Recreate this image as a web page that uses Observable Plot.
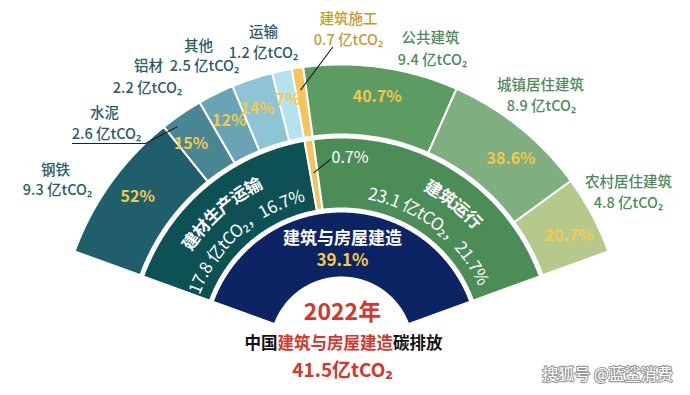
<!DOCTYPE html>
<html><head><meta charset="utf-8">
<script src="https://cdn.jsdelivr.net/npm/d3@7"></script>
<script src="https://cdn.jsdelivr.net/npm/@observablehq/plot@0.6"></script>
<style>html,body{margin:0;padding:0;background:#fff;} svg{display:block}</style>
</head><body><div id="chart"></div>
<script>
// ---------------- data ----------------
const innerName = "建筑与房屋建造";
const innerShare = "39.1%";
const middleNames = ["建材生产运输", "建筑施工", "建筑运行"];
const middleValues = [17.8, 0.7, 23.1];
const middleShares = ["16.7%", "0.7%", "21.7%"];
const outerNames = ["钢铁", "水泥", "铝材", "其他", "运输", "建筑施工", "公共建筑", "城镇居住建筑", "农村居住建筑"];
const outerValues = [9.3, 2.6, 2.2, 2.5, 1.2, 0.7, 9.4, 8.9, 4.8];
const outerShares = ["52%", "15%", "12%", "14%", "7%", "", "40.7%", "38.6%", "20.7%"];
const outerGroup = [0, 0, 0, 0, 0, 1, 2, 2, 2];
const yearLabel = "2022年";
const titleParts = ["中国", "建筑与房屋建造", "碳排放"];
const totalLabel = "41.5亿tCO₂";
const unit = "亿tCO₂";
const watermark = "搜狐号 @蓝鲨消费";

// ---------------- layout & style ----------------
const W = 690, H = 395;
const CX = 341, CY = 348, A0 = -70, A1 = 70;
const R = {inner: [71, 137], middle: [140, 211], outer: [214, 284]};
const FONT = "'Noto Sans CJK SC','Noto Sans',sans-serif";
const fillOf = {
  "i-建筑与房屋建造": "#0c2463",
  "m-建材生产运输": "#0d5155", "m-建筑施工": "#f3c55c", "m-建筑运行": "#4c8c57",
  "o-钢铁": "#1f5f6b", "o-水泥": "#4a8594", "o-铝材": "#6aa3b4", "o-其他": "#8fc4d4",
  "o-运输": "#b4e3f0", "o-建筑施工": "#f3c55c", "o-公共建筑": "#5c9b61",
  "o-城镇居住建筑": "#7faf7f", "o-农村居住建筑": "#b6c98c"
};
const groupColor = ["#2b5b65", "#c49a2c", "#4e8a5b"];
const pctColor = "#f2c94c";
const red = "#d8352c";
// label anchor positions (name line, value line)
const labelPos = {
  "钢铁": [55, 170, 57, 190], "水泥": [104, 113, 106, 134], "铝材": [148, 66, 147, 88],
  "其他": [198, 46, 204, 66], "运输": [263, 32, 263, 53], "建筑施工": [348, 19, 348, 40],
  "公共建筑": [430, 38, 432, 60], "城镇居住建筑": [540, 85, 541, 106], "农村居住建筑": [628, 182, 628, 203]
};
const pctAngleShift = {"钢铁": 1, "水泥": -2, "其他": -1, "城镇居住建筑": 3, "农村居住建筑": 1.7};

// ---------------- geometry helpers ----------------
const rad = d => d * Math.PI / 180;
const pt = (r, a) => [CX + r * Math.sin(rad(a)), CY - r * Math.cos(rad(a))];
function spans(values) {
  const total = d3.sum(values); let acc = 0;
  return values.map(v => { const a0 = A0 + acc / total * (A1 - A0); acc += v; return [a0, A0 + acc / total * (A1 - A0)]; });
}
function sector(key, r0, r1, a0, a1) {
  const n = Math.max(2, Math.ceil(Math.abs(a1 - a0) * 2));
  const out = [];
  for (let i = 0; i <= n; i++) { const [x, y] = pt(r1, a0 + (a1 - a0) * i / n); out.push({key, x, y}); }
  for (let i = n; i >= 0; i--) { const [x, y] = pt(r0, a0 + (a1 - a0) * i / n); out.push({key, x, y}); }
  out.push({...out[0]});
  return out;
}

const midSpans = spans(middleValues);
const outSpans = spans(outerValues);
const polys = [
  ...sector("i-" + innerName, R.inner[0], R.inner[1], A0, A1),
  ...middleNames.flatMap((n, i) => sector("m-" + n, R.middle[0], R.middle[1], midSpans[i][0], midSpans[i][1])),
  ...outerNames.flatMap((n, i) => sector("o-" + n, R.outer[0], R.outer[1], outSpans[i][0], outSpans[i][1]))
];

// percentage labels in outer ring
const pctLabels = outerNames.map((n, i) => {
  const a = (outSpans[i][0] + outSpans[i][1]) / 2 + (pctAngleShift[n] || 0);
  const [x, y] = pt(254, a);
  return {x, y, text: outerShares[i]};
}).filter(d => d.text);

// outer name/value labels
const nameLabels = outerNames.map((n, i) => ({x: labelPos[n][0], y: labelPos[n][1], text: n, fill: groupColor[outerGroup[i]]}));
const valueLabels = outerNames.map((n, i) => ({x: labelPos[n][2], y: labelPos[n][3], text: `${outerValues[i]} ${unit}`, fill: groupColor[outerGroup[i]]}));

// leader lines
const cementMid = (outSpans[1][0] + outSpans[1][1]) / 2;
const constrMid = (outSpans[5][0] + outSpans[5][1]) / 2;
const leaders = [
  ...[[72, 143], [145, 143], pt(276, cementMid - 2.3)].map(([x, y]) => ({k: "a", x, y})),
  ...[[332, 47], pt(262, constrMid)].map(([x, y]) => ({k: "b", x, y})),
  ...[[330, 159], pt(178, constrMid)].map(([x, y]) => ({k: "c", x, y}))
];

// title line pieces
const tfs = 16.5;
const tw = titleParts.map(s => s.length * tfs);
const tx0 = CX + 2 - d3.sum(tw) / 2;
const titleData = titleParts.map((s, i) => ({x: tx0 + d3.sum(tw.slice(0, i)), y: 343, text: s, fill: i === 1 ? red : "#111"}));

const chart = Plot.plot({
  width: W, height: H, margin: 0,
  x: {domain: [0, W], range: [0, W], axis: null},
  y: {domain: [0, H], range: [0, H], axis: null},
  color: {type: "identity"},
  style: {fontFamily: FONT, background: "#fff", overflow: "visible"},
  marks: [
    Plot.line(polys, {x: "x", y: "y", z: "key", fill: d => fillOf[d.key], stroke: "#fff", strokeWidth: 2, curve: "linear"}),
    Plot.line(leaders, {x: "x", y: "y", z: "k", stroke: "#222", strokeWidth: 1.2}),
    Plot.text(pctLabels, {x: "x", y: "y", text: "text", fill: pctColor, fontSize: 16, fontWeight: "bold"}),
    Plot.text(nameLabels, {x: "x", y: "y", text: "text", fill: "fill", fontSize: 14.5, fontWeight: 500}),
    Plot.text(valueLabels, {x: "x", y: "y", text: "text", fill: "fill", fontSize: 14.5, fontWeight: 500}),
    Plot.text([middleShares[1]], {x: () => 331, y: () => 157, text: d => d, fill: "#fff", fontSize: 16, textAnchor: "start"}),
    Plot.text([innerName], {x: () => CX + 1, y: () => 238, text: d => d, fill: "#fff", fontSize: 17, fontWeight: "bold"}),
    Plot.text([innerShare], {x: () => CX + 1, y: () => 260, text: d => d, fill: pctColor, fontSize: 17, fontWeight: "bold"}),
    Plot.text([yearLabel], {x: () => CX + 1, y: () => 312, text: d => d, fill: red, fontSize: 23, fontWeight: "bold"}),
    Plot.text(titleData, {x: "x", y: "y", text: "text", fill: "fill", fontSize: tfs, fontWeight: "bold", textAnchor: "start"}),
    Plot.text([totalLabel], {x: () => CX + 1, y: () => 370, text: d => d, fill: red, fontSize: 19, fontWeight: "bold"}),
    Plot.text([watermark], {x: () => 607, y: () => 374, text: d => d, fill: "#fff", stroke: "#9a9a9a", strokeWidth: 2.2, paintOrder: "stroke", fontSize: 16})
  ]
});
document.getElementById("chart").appendChild(chart);

// curved labels on the middle ring, positioned through Plot's scales
const sx = chart.scale("x"), sy = chart.scale("y");
const svg = d3.select(chart);
const defs = svg.append("defs");
const curved = [
  {text: middleNames[0], a: -41.5, r: 186, bold: true},
  {text: `${middleValues[0]} ${unit}，${middleShares[0]}`, a: -41.5, r: 159, bold: false},
  {text: middleNames[2], a: 38, r: 186, bold: true},
  {text: `${middleValues[2]} ${unit}，${middleShares[2]}`, a: 38, r: 159, bold: false}
];
curved.forEach((c, i) => {
  const [x0, y0] = pt(c.r, c.a - 65), [x1, y1] = pt(c.r, c.a + 65);
  const id = "arcpath" + i;
  defs.append("path").attr("id", id)
    .attr("d", `M${sx.apply(x0)},${sy.apply(y0)} A${c.r},${c.r} 0 0 1 ${sx.apply(x1)},${sy.apply(y1)}`);
  svg.append("text")
    .attr("font-family", FONT).attr("font-size", 17).attr("font-weight", c.bold ? "bold" : "normal")
    .attr("fill", "#fff").attr("dominant-baseline", "central")
    .append("textPath").attr("href", "#" + id).attr("startOffset", "50%").attr("text-anchor", "middle")
    .text(c.text);
});
</script>
</body></html>
